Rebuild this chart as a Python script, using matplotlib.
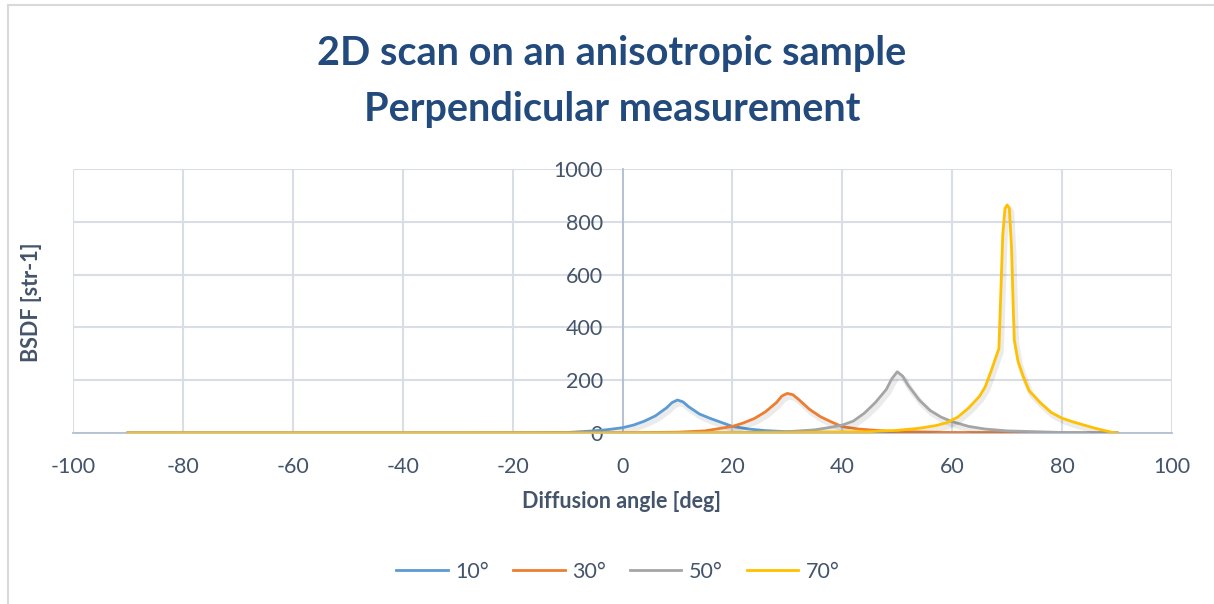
import matplotlib
matplotlib.use("Agg")
import matplotlib.pyplot as plt
import matplotlib.patheffects as pe
from matplotlib.lines import Line2D

# ---- data ----
x10 = [-90, -60, -30, -15, -10, -6, -3, 0, 2, 4, 6, 8, 9, 10, 11, 12, 14, 16, 18, 20, 23, 26, 30, 40, 60, 90]
y10 = [0, 0, 0, 1, 2, 7, 12, 20, 30, 45, 65, 95, 115, 125, 118, 100, 72, 55, 40, 25, 15, 9, 5, 2, 0, 0]

x30 = [-90, -30, 0, 10, 15, 20, 22, 24, 26, 28, 29, 30, 31, 32, 34, 36, 38, 40, 43, 46, 50, 60, 90]
y30 = [0, 0, 1, 3, 8, 25, 38, 55, 80, 115, 140, 150, 145, 128, 90, 62, 42, 24, 15, 10, 5, 2, 0]

x50 = [-90, 0, 20, 30, 35, 38, 40, 42, 44, 46, 48, 49, 50, 51, 52, 54, 56, 58, 60, 63, 66, 70, 80, 90]
y50 = [0, 0, 1, 5, 12, 22, 30, 45, 75, 115, 165, 205, 232, 215, 180, 125, 85, 60, 43, 25, 15, 8, 2, 0]

x70 = [-90, 0, 30, 45, 50, 54, 57, 59, 61, 63, 65, 66, 67, 68, 68.5, 68.8, 69.2, 69.6, 70, 70.4,
       70.8, 71.1, 71.3, 72, 73, 74, 76, 78, 80, 82, 84, 86, 88, 89, 90]
y70 = [0, 0, 1, 5, 10, 18, 28, 39, 60, 95, 140, 175, 230, 290, 320, 500, 750, 850, 864, 850,
       700, 480, 352, 270, 210, 160, 115, 78, 56, 42, 30, 18, 8, 3, 0]

series_names = ["10°", "30°", "50°", "70°"]
colors = ["#5B9BD5", "#ED7D31", "#A5A5A5", "#FFC000"]
x_ticks = [-100, -80, -60, -40, -20, 0, 20, 40, 60, 80, 100]
y_ticks = [0, 200, 400, 600, 800, 1000]

title_line1 = "2D scan on an anisotropic sample"
title_line2 = "Perpendicular measurement"
xlabel = "Diffusion angle [deg]"
ylabel = "BSDF [str-1]"

plt.rcParams['font.family'] = ['Lato', 'DejaVu Sans']
plt.rcParams['axes.unicode_minus'] = False
text_color = "#44546A"
grid_color = "#D9DDE5"
axis_color = "#B4BFD3"

fig = plt.figure(figsize=(12.14, 6.04), dpi=100)
ax = fig.add_axes([73/1214, 1-433/604, (1172-73)/1214, (433-169)/604])

shadow = [pe.SimpleLineShadow(offset=(1.5, -2.5), shadow_color="#000000", alpha=0.08, linewidth=4), pe.Normal()]
for xs, ys, c, n in zip([x10, x30, x50, x70], [y10, y30, y50, y70], colors, series_names):
    ax.plot(xs, ys, color=c, lw=2, label=n, path_effects=shadow, zorder=3, solid_joinstyle='round')

ax.set_xlim(-100, 100)
ax.set_ylim(0, 1000)
ax.set_xticks(x_ticks)
ax.set_yticks(y_ticks)
ax.grid(True, color=grid_color, lw=1.5, zorder=0)
ax.set_axisbelow(True)

for s in ["top", "right"]:
    ax.spines[s].set_visible(False)
ax.spines["left"].set_position(("data", 0))
ax.spines["left"].set_color(axis_color)
ax.spines["left"].set_linewidth(1.3)
ax.spines["bottom"].set_color(axis_color)
ax.spines["bottom"].set_linewidth(1.3)
ax.spines["left"].set_zorder(1)

ax.tick_params(axis="both", length=0, labelsize=15.5, colors=text_color)
ax.tick_params(axis="x", pad=17)
ax.tick_params(axis="y", pad=14)

fig.text(32/1214, 1-302/604, ylabel, rotation=90, ha="center", va="center",
         fontsize=15.5, fontweight="bold", color=text_color)
fig.text(622/1214, 1-502/604, xlabel, ha="center", va="center",
         fontsize=15.5, fontweight="bold", color=text_color)

fig.text(612/1214, 1-53/604, title_line1, ha="center", va="center", fontsize=28.5,
         fontweight="bold", color="#234A7C")
fig.text(612/1214, 1-109/604, title_line2, ha="center", va="center", fontsize=28.5,
         fontweight="bold", color="#234A7C")

handles = [Line2D([0], [0], color=c, lw=2) for c in colors]
fig.legend(handles, series_names, loc="center", bbox_to_anchor=(618/1214, 1-572/604),
           ncol=4, frameon=False, fontsize=15.5, labelcolor=text_color,
           handlelength=2.4, columnspacing=1.1, handletextpad=0.35)

# outer chart border
fig.add_artist(Line2D([8/1214, 8/1214], [0, 1-5/604], color="#D9D9D9", lw=1.5, transform=fig.transFigure))
fig.add_artist(Line2D([8/1214, 1], [1-5/604, 1-5/604], color="#D9D9D9", lw=1.5, transform=fig.transFigure))

fig.savefig("out.png", dpi=100)
